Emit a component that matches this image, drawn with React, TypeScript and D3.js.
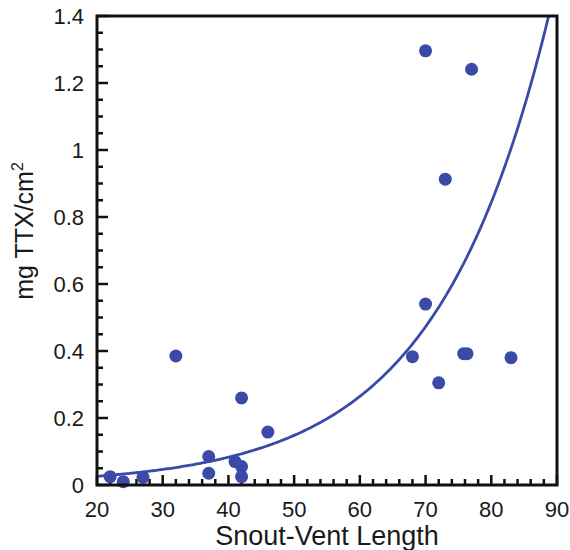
import React from "react";
import * as d3 from "d3";

const svlX = [22, 24, 27, 32, 37, 37, 41, 42, 42, 42, 46, 68, 70, 70, 72, 73, 75.8, 76.3, 77, 83];
const ttxY = [0.025, 0.01, 0.023, 0.385, 0.085, 0.035, 0.07, 0.26, 0.055, 0.025, 0.158, 0.383, 1.296, 0.54, 0.305, 0.913, 0.392, 0.392, 1.241, 0.38];

// exponential fit parameters: y = fitA * exp(fitB * (x - fitX0))
const fitA = 0.026;
const fitB = 0.058;
const fitX0 = 20;

const xTicks = [20, 30, 40, 50, 60, 70, 80, 90];
const yTicks = [0, 0.2, 0.4, 0.6, 0.8, 1, 1.2, 1.4];

const BLUE = "#3a4aa6";
const FONT = "'Liberation Sans', Arial, sans-serif";

export default function App() {
  const W = 570, H = 550;
  const left = 97, right = 557, top = 16, bottom = 485;
  const x = d3.scaleLinear().domain([20, 90]).range([left, right]);
  const y = d3.scaleLinear().domain([0, 1.4]).range([bottom, top]);

  const xMinor = d3.range(20, 90.001, 2);
  const yMinor = d3.range(0, 1.4001, 0.05);

  const curvePts: [number, number][] = [];
  for (let v = 20; v <= 90; v += 0.25) {
    const val = fitA * Math.exp(fitB * (v - fitX0));
    if (val > 1.4) {
      const vEnd = fitX0 + Math.log(1.4 / fitA) / fitB;
      curvePts.push([vEnd, 1.4]);
      break;
    }
    curvePts.push([v, val]);
  }
  const line = d3.line<[number, number]>().x(d => x(d[0])).y(d => y(d[1]));

  return (
    <svg width={W} height={H} style={{ position: "absolute", left: 0, top: 0, background: "#fff" }}>
      <rect x={0} y={0} width={W} height={H} fill="#fff" />
      {xMinor.map((v, i) => {
        const major = Math.abs((v - 20) % 10) < 1e-6;
        return <line key={"xm" + i} x1={x(v)} x2={x(v)} y1={bottom} y2={bottom - (major ? 10 : 6)} stroke="#111" strokeWidth={2.5} />;
      })}
      {yMinor.map((v, i) => {
        const major = Math.abs(Math.round(v * 100) % 20) < 1e-6;
        return <line key={"ym" + i} x1={left} x2={left + (major ? 11 : 6)} y1={y(v)} y2={y(v)} stroke="#111" strokeWidth={2.5} />;
      })}
      <path d={line(curvePts) || ""} fill="none" stroke={BLUE} strokeWidth={2.8} />
      {svlX.map((v, i) => (
        <circle key={"p" + i} cx={x(v)} cy={y(ttxY[i])} r={6.5} fill={BLUE} />
      ))}
      <rect x={left} y={top} width={right - left} height={bottom - top} fill="none" stroke="#111" strokeWidth={3} />
      {xTicks.map(v => (
        <text key={"xt" + v} x={x(v)} y={517} textAnchor="middle" fontFamily={FONT} fontSize={22} fill="#1a1a1a">{v}</text>
      ))}
      {yTicks.map(v => (
        <text key={"yt" + v} x={84} y={y(v)} dy="0.36em" textAnchor="end" fontFamily={FONT} fontSize={22} fill="#1a1a1a">{String(v)}</text>
      ))}
      <text x={(left + right) / 2} y={545} textAnchor="middle" fontFamily={FONT} fontSize={27} fill="#1a1a1a">Snout-Vent Length</text>
      <text transform="translate(33,231) rotate(-90)" textAnchor="middle" fontFamily={FONT} fontSize={25} fill="#1a1a1a">
        mg TTX/cm<tspan dy="-10" fontSize={16}>2</tspan>
      </text>
    </svg>
  );
}
